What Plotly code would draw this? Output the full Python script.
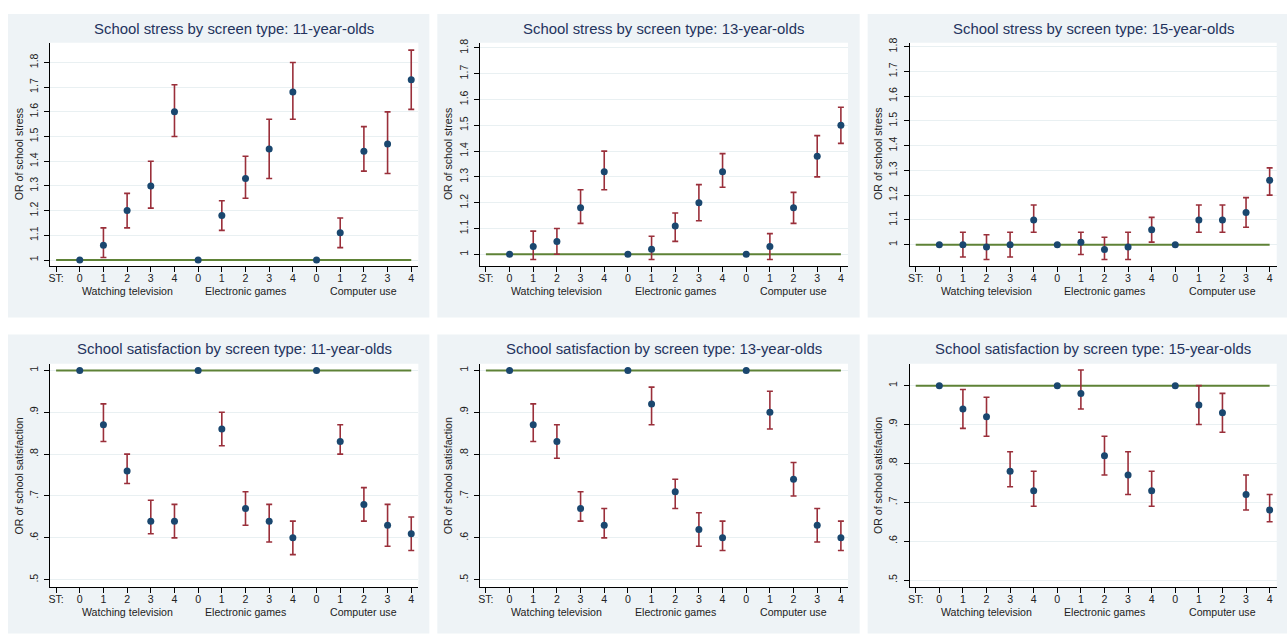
import plotly.graph_objects as go

# ---------------- data ----------------
positions = list(range(15))          # 3 screen types x 5 levels (0-4)
tick_labels = ["ST:"] + ["0", "1", "2", "3", "4"] * 3
group_labels = ["Watching television", "Electronic games", "Computer use"]
group_centers = [2, 7, 12]

titles = [
    "School stress by screen type: 11-year-olds",
    "School stress by screen type: 13-year-olds",
    "School stress by screen type: 15-year-olds",
    "School satisfaction by screen type: 11-year-olds",
    "School satisfaction by screen type: 13-year-olds",
    "School satisfaction by screen type: 15-year-olds",
]
ytitles = ["OR of school stress"] * 3 + ["OR of school satisfaction"] * 3

stress_ticks = [1.0, 1.1, 1.2, 1.3, 1.4, 1.5, 1.6, 1.7, 1.8]
stress_ticktext = ["1", "1.1", "1.2", "1.3", "1.4", "1.5", "1.6", "1.7", "1.8"]
satis_ticks = [0.5, 0.6, 0.7, 0.8, 0.9, 1.0]
satis_ticktext = [".5", ".6", ".7", ".8", ".9", "1"]

# stress, 11-year-olds
or_s11 = [1, 1.06, 1.20, 1.30, 1.60, 1, 1.18, 1.33, 1.45, 1.68, 1, 1.11, 1.44, 1.47, 1.73]
lo_s11 = [None, 1.01, 1.13, 1.21, 1.50, None, 1.12, 1.25, 1.33, 1.57, None, 1.05, 1.36, 1.35, 1.61]
hi_s11 = [None, 1.13, 1.27, 1.40, 1.71, None, 1.24, 1.42, 1.57, 1.80, None, 1.17, 1.54, 1.60, 1.85]
# stress, 13-year-olds
or_s13 = [1, 1.03, 1.05, 1.18, 1.32, 1, 1.02, 1.11, 1.20, 1.32, 1, 1.03, 1.18, 1.38, 1.50]
lo_s13 = [None, 0.98, 1.00, 1.12, 1.25, None, 0.98, 1.05, 1.13, 1.26, None, 0.98, 1.12, 1.30, 1.43]
hi_s13 = [None, 1.09, 1.10, 1.25, 1.40, None, 1.07, 1.16, 1.27, 1.39, None, 1.08, 1.24, 1.46, 1.57]
# stress, 15-year-olds
or_s15 = [1, 1.00, 0.99, 1.00, 1.10, 1, 1.01, 0.98, 0.99, 1.06, 1, 1.10, 1.10, 1.13, 1.26]
lo_s15 = [None, 0.95, 0.94, 0.95, 1.05, None, 0.96, 0.94, 0.94, 1.01, None, 1.05, 1.05, 1.07, 1.20]
hi_s15 = [None, 1.05, 1.04, 1.05, 1.16, None, 1.05, 1.03, 1.05, 1.11, None, 1.16, 1.16, 1.19, 1.31]
# satisfaction, 11-year-olds
or_t11 = [1, 0.87, 0.76, 0.64, 0.64, 1, 0.86, 0.67, 0.64, 0.60, 1, 0.83, 0.68, 0.63, 0.61]
lo_t11 = [None, 0.83, 0.73, 0.61, 0.60, None, 0.82, 0.63, 0.59, 0.56, None, 0.80, 0.64, 0.58, 0.57]
hi_t11 = [None, 0.92, 0.80, 0.69, 0.68, None, 0.90, 0.71, 0.68, 0.64, None, 0.87, 0.72, 0.68, 0.65]
# satisfaction, 13-year-olds
or_t13 = [1, 0.87, 0.83, 0.67, 0.63, 1, 0.92, 0.71, 0.62, 0.60, 1, 0.90, 0.74, 0.63, 0.60]
lo_t13 = [None, 0.83, 0.79, 0.64, 0.60, None, 0.87, 0.67, 0.58, 0.57, None, 0.86, 0.70, 0.59, 0.57]
hi_t13 = [None, 0.92, 0.87, 0.71, 0.67, None, 0.96, 0.74, 0.66, 0.64, None, 0.95, 0.78, 0.67, 0.64]
# satisfaction, 15-year-olds
or_t15 = [1, 0.94, 0.92, 0.78, 0.73, 1, 0.98, 0.82, 0.77, 0.73, 1, 0.95, 0.93, 0.72, 0.68]
lo_t15 = [None, 0.89, 0.87, 0.74, 0.69, None, 0.94, 0.77, 0.72, 0.69, None, 0.90, 0.88, 0.68, 0.65]
hi_t15 = [None, 0.99, 0.97, 0.83, 0.78, None, 1.04, 0.87, 0.83, 0.78, None, 1.00, 0.98, 0.77, 0.72]

panels = [
    (or_s11, lo_s11, hi_s11),
    (or_s13, lo_s13, hi_s13),
    (or_s15, lo_s15, hi_s15),
    (or_t11, lo_t11, hi_t11),
    (or_t13, lo_t13, hi_t13),
    (or_t15, lo_t15, hi_t15),
]
yranges = [
    [0.976, 1.88], [0.955, 1.82], [0.914, 1.816],
    [0.4825, 1.0156], [0.4825, 1.0156], [0.482, 1.056],
]

# ---------------- styling / layout ----------------
W, H = 1287, 634
FONT = "Liberation Sans, Arial, sans-serif"
NAVY = "#1a476f"
MAROON = "#9a2f3a"
GREEN = "#5e8236"
PANEL_BG = "#eef3f6"
TITLE_COLOR = "#24335e"

col_px = [(48, 417), (478.5, 847.3), (909, 1276.7)]
row_px = [(38, 263), (361.7, 586.7)]
panel_x_px = [(6, 428), (436, 859), (867, 1287)]
panel_y_px = [(9, 315), (332, 633.5)]
title_y_px = [24, 347]
group_y_px = [288.5, 611.5]
ytitle_x_off = 31  # px left of axis

def fx(px):
    return px / W

def fy(py):
    return 1 - py / H

fig = go.Figure()
shapes = []
annotations = []
layout = {}

for i, ((orv, lov, hiv), yr) in enumerate(zip(panels, yranges)):
    r, c = divmod(i, 3)
    n = i + 1
    xa = "x" if n == 1 else f"x{n}"
    ya = "y" if n == 1 else f"y{n}"
    xkey = "xaxis" if n == 1 else f"xaxis{n}"
    ykey = "yaxis" if n == 1 else f"yaxis{n}"

    # panel background
    px0, px1 = panel_x_px[c]
    py0, py1 = panel_y_px[r]
    shapes.append(dict(type="rect", xref="paper", yref="paper", layer="below",
                       x0=fx(px0), x1=fx(px1), y0=fy(py1), y1=fy(py0),
                       fillcolor=PANEL_BG, line=dict(width=0)))
    cx0, cx1 = col_px[c]
    ry0, ry1 = row_px[r]
    shapes.append(dict(type="rect", xref="paper", yref="paper", layer="below",
                       x0=fx(cx0), x1=fx(cx1), y0=fy(ry1), y1=fy(ry0),
                       fillcolor="white", line=dict(width=0)))

    # reference line at OR = 1
    fig.add_trace(go.Scatter(x=[-1, 14], y=[1, 1], mode="lines",
                             line=dict(color=GREEN, width=2),
                             xaxis=xa, yaxis=ya, showlegend=False, hoverinfo="skip"))
    plus = [None if h is None else h - v for h, v in zip(hiv, orv)]
    minus = [None if l is None else v - l for l, v in zip(lov, orv)]
    fig.add_trace(go.Scatter(
        x=positions, y=orv, mode="markers",
        marker=dict(color=NAVY, size=7),
        error_y=dict(type="data", symmetric=False, array=plus, arrayminus=minus,
                     color=MAROON, thickness=1.6, width=3),
        xaxis=xa, yaxis=ya, showlegend=False))

    layout[xkey] = dict(
        domain=[fx(cx0), fx(cx1)], anchor=ya, range=[-1.26, 14.3],
        tickmode="array", tickvals=[-1] + positions, ticktext=tick_labels,
        ticks="outside", ticklen=5, tickcolor="#000", tickwidth=1,
        ticklabelstandoff=-3,
        showline=True, linecolor="#000", linewidth=1,
        showgrid=False, zeroline=False,
        tickfont=dict(family=FONT, size=10.6, color="#222"),
        fixedrange=True)
    top = r == 0
    layout[ykey] = dict(
        domain=[fy(ry1), fy(ry0)], anchor=xa, range=yr,
        tickmode="array",
        tickvals=stress_ticks if top else satis_ticks,
        ticktext=stress_ticktext if top else satis_ticktext,
        tickangle=-90,
        ticks="outside", ticklen=5, tickcolor="#000", tickwidth=1,
        ticklabelstandoff=2,
        showline=True, linecolor="#000", linewidth=1,
        showgrid=True, gridcolor="#e9f0f2", gridwidth=1, zeroline=False,
        tickfont=dict(family=FONT, size=10.6, color="#222"),
        fixedrange=True)

    # title
    annotations.append(dict(text=titles[i], xref="paper", yref="paper",
                            x=fx((cx0 + cx1) / 2), y=fy(title_y_px[r]),
                            xanchor="center", yanchor="middle", showarrow=False,
                            font=dict(family=FONT, size=14.9, color=TITLE_COLOR)))
    # y axis title
    annotations.append(dict(text=ytitles[i], xref="paper", yref="paper",
                            x=fx(cx0 - ytitle_x_off), y=fy((ry0 + ry1) / 2),
                            xanchor="center", yanchor="middle", textangle=-90,
                            showarrow=False,
                            font=dict(family=FONT, size=10.6, color="#222")))
    # group labels
    for lab, gc in zip(group_labels, group_centers):
        annotations.append(dict(text=lab, xref=xa, yref="paper",
                                x=gc, y=fy(group_y_px[r]),
                                xanchor="center", yanchor="middle", showarrow=False,
                                font=dict(family=FONT, size=10.6, color="#222")))

fig.update_layout(
    width=W, height=H, margin=dict(l=0, r=0, t=0, b=0),
    paper_bgcolor="white", plot_bgcolor="white",
    shapes=shapes, annotations=annotations, showlegend=False,
    **layout)

fig.write_html("out.html",
               config={"displayModeBar": False},
               post_script="document.body.style.margin='0';document.body.style.overflow='hidden';")
